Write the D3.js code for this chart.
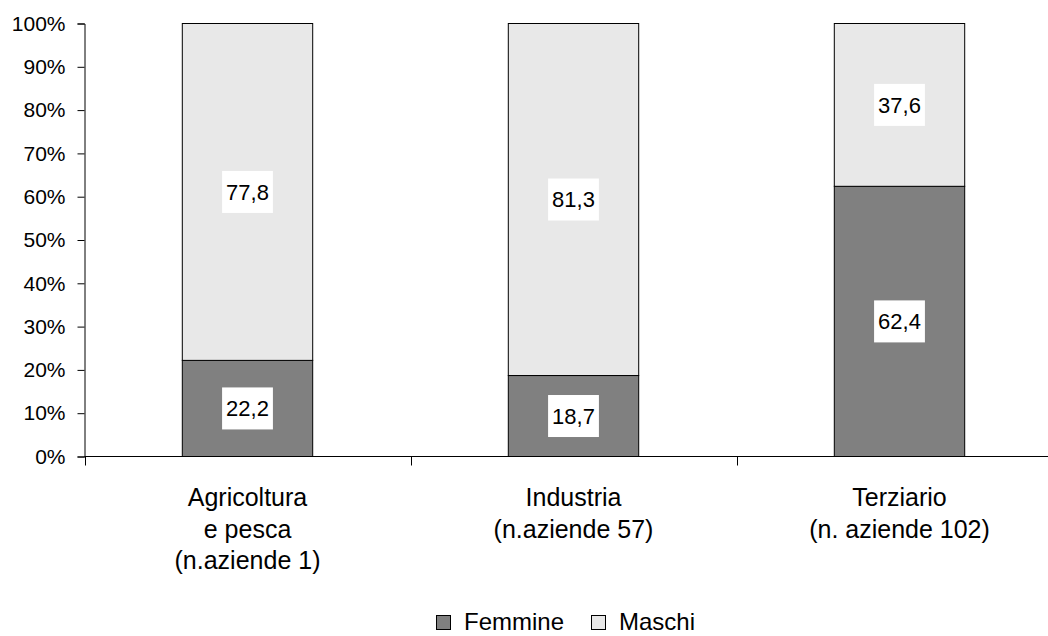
<!DOCTYPE html>
<html>
<head>
<meta charset="utf-8">
<script src="https://cdn.jsdelivr.net/npm/d3@7"></script>
<style>
  html, body { margin: 0; padding: 0; background: #fff; }
  svg { display: block; font-family: "Liberation Sans", Arial, sans-serif; }
</style>
</head>
<body>
<svg id="chart" width="1048" height="636"></svg>
<script>
// Sectors (multi-line axis labels)
const categories = ["Agricoltura", "Industria", "Terziario"];
const categoryLabels = [
  ["Agricoltura", "e pesca", "(n.aziende 1)"],
  ["Industria", "(n.aziende 57)"],
  ["Terziario", "(n. aziende 102)"]
];
// Share of employees by gender, percent
const femmine = [22.2, 18.7, 62.4];
const maschi = [77.8, 81.3, 37.6];
const seriesNames = ["Femmine", "Maschi"];
const seriesColors = ["#808080", "#e8e8e8"];
const yTicks = [0, 10, 20, 30, 40, 50, 60, 70, 80, 90, 100];

const svg = d3.select("#chart");

const x = d3.scaleBand().domain(categories).range([84.5, 1062.5]).padding(0);
const y = d3.scaleLinear().domain([0, 100]).range([456.5, 23.5]);
const barW = x.bandwidth() * 0.4;

const itFmt = d3.formatLocale({ decimal: ",", thousands: ".", grouping: [3], currency: ["", "€"] }).format(".1f");

// Stacked data
const rows = categories.map((c, i) => ({ cat: c, Femmine: femmine[i], Maschi: maschi[i] }));
const stack = d3.stack().keys(seriesNames)(rows);

// Bars
const layers = svg.append("g").selectAll("g").data(stack).join("g")
  .attr("fill", (d, i) => seriesColors[i]);
layers.selectAll("rect").data(d => d).join("rect")
  .attr("x", d => x(d.data.cat) + x.bandwidth() / 2 - barW / 2)
  .attr("width", barW)
  .attr("y", d => y(d[1]))
  .attr("height", d => y(d[0]) - y(d[1]))
  .attr("stroke", "#000")
  .attr("stroke-width", 1);

// Y axis
const yAxis = svg.append("g").attr("transform", "translate(84.5,0)")
  .call(d3.axisLeft(y).tickValues(yTicks).tickSize(7).tickPadding(12).tickFormat(d => d + "%"));
yAxis.select(".domain").attr("stroke", "#000");
yAxis.selectAll(".tick line").attr("stroke", "#000");
yAxis.selectAll("text").attr("font-size", 21).attr("fill", "#000")
  .attr("font-family", "'Liberation Sans', Arial, sans-serif");

// X axis line with tick marks at band boundaries
const xg = svg.append("g");
xg.append("line").attr("x1", 84.5).attr("x2", 1048).attr("y1", y(0)).attr("y2", y(0))
  .attr("stroke", "#000");
xg.selectAll("line.tk").data(categories).join("line").attr("class", "tk")
  .attr("x1", d => Math.round(x(d)) + 0.5).attr("x2", d => Math.round(x(d)) + 0.5)
  .attr("y1", y(0)).attr("y2", y(0) + 9).attr("stroke", "#000");

// Category labels
categoryLabels.forEach((lines, i) => {
  const cx = x(categories[i]) + x.bandwidth() / 2;
  const t = svg.append("text").attr("text-anchor", "middle")
    .attr("font-size", 25).attr("fill", "#000");
  lines.forEach((ln, j) => {
    t.append("tspan").attr("x", cx).attr("y", 506 + j * 31.5).text(ln);
  });
});

// Value labels on white boxes
stack.forEach(layer => {
  layer.forEach(d => {
    const v = d[1] - d[0];
    const cx = x(d.data.cat) + x.bandwidth() / 2;
    const cy = (y(d[0]) + y(d[1])) / 2;
    const g = svg.append("g");
    const txt = g.append("text").attr("x", cx).attr("y", cy).attr("dy", "0.36em")
      .attr("text-anchor", "middle").attr("font-size", 22).attr("fill", "#000")
      .text(itFmt(v));
    const w = txt.node().getComputedTextLength() + 8;
    g.insert("rect", "text").attr("x", cx - w / 2).attr("y", cy - 21)
      .attr("width", w).attr("height", 42).attr("fill", "#fff");
  });
});

// Legend
const legendX = [436, 591];
const legend = svg.append("g");
seriesNames.forEach((name, i) => {
  legend.append("rect").attr("x", legendX[i] + 0.5).attr("y", 615.5)
    .attr("width", 14).attr("height", 14)
    .attr("fill", seriesColors[i]).attr("stroke", "#000");
  legend.append("text").attr("x", legendX[i] + 28).attr("y", 630)
    .attr("font-size", 24).attr("fill", "#000").text(name);
});
</script>
</body>
</html>
